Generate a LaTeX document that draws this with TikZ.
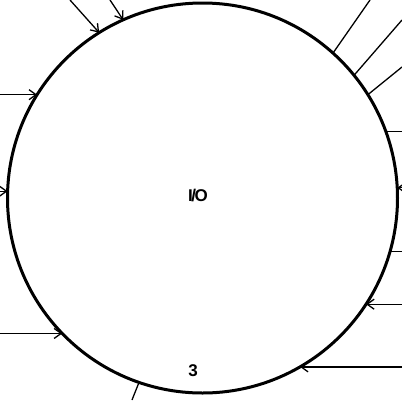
\documentclass[tikz,border=0pt]{standalone}
\usepackage{fontspec}
\setmainfont{Liberation Sans}
\usetikzlibrary{arrows.meta}

\begin{document}
\begin{tikzpicture}[x=1pt,y=-1pt,
  process/.style={
    circle,
    draw,
    line width=3pt,
    inner sep=0pt,
    outer sep=0pt,
    minimum size=390pt
  },
  flow/.style={
    line width=1.3pt,
    -{Straight Barb[length=7pt,width=10pt,line width=1.3pt]}
  },
  link/.style={line width=1.3pt}
]
\useasboundingbox (0,0) rectangle (402,400);
\node[process] (io) at (202.5,198) {};
\node[font=\bfseries\fontsize{17}{17}\selectfont] (name) at (198,196) {I\kern-1.5pt/\kern-1.5pt O};
\node[font=\bfseries\fontsize{17}{17}\selectfont] (num) at (193,371) {3};
% free ends at the frame
\coordinate (lft) at (0,0);
\coordinate (rgt) at (402,0);
\coordinate (a1) at (70,0);
\coordinate (a2) at (110,0);
\coordinate (b1) at (132,400);
\coordinate (c1) at (370,0);
\coordinate (c2) at (402,20);
\coordinate (c3) at (402,67);
% flows into the process
  \draw[flow] (a1) -- (io.122.7);
  \draw[flow] (a2) -- (io.114.3);
  \draw[flow] (lft |- io.148.7) -- (io.148.7);
  \draw[flow] (lft |- io.178.2) -- (io.178.2);
  \draw[flow] (lft |- io.224.3) -- (io.224.3);
  \draw[flow] (rgt |- io.3.8) -- (io.3.8);
  \draw[flow] (rgt |- io.-33) -- (io.-33);
  \draw[flow] (rgt |- io.-60.7) -- (io.-60.7);
% plain links
  \draw[link] (b1) -- (io.251.3);
  \draw[link] (c1) -- (io.48.6);
  \draw[link] (c2) -- (io.39.9);
  \draw[link] (c3) -- (io.32.6);
  \draw[link] (rgt |- io.20.9) -- (io.20.9);
  \draw[link] (rgt |- io.-16.1) -- (io.-16.1);
\end{tikzpicture}
\end{document}
